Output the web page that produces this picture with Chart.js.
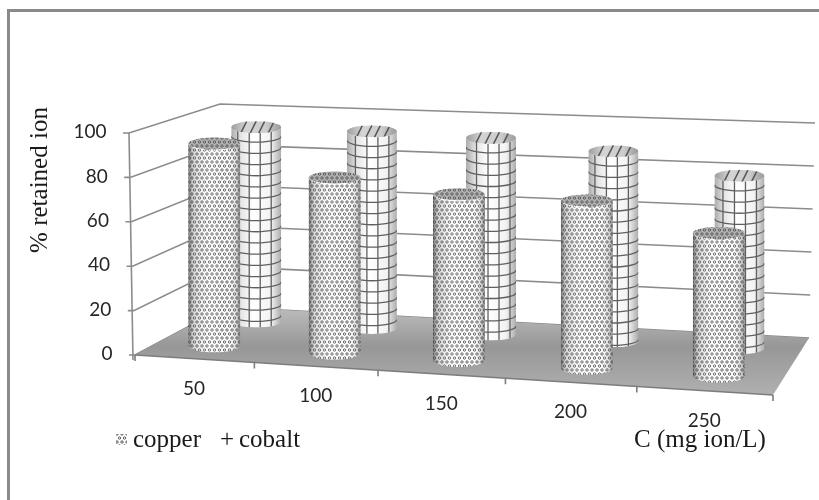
<!DOCTYPE html>
<html>
<head>
<meta charset="utf-8">
<style>
html, body { margin: 0; padding: 0; background: #fff; }
#wrap { position: relative; width: 819px; height: 500px; }
#chart { filter: blur(0.45px); }
</style>
<script src="https://cdn.jsdelivr.net/npm/chart.js@4"></script>
</head>
<body>
<div id="wrap"><canvas id="chart"></canvas></div>
<script>
var categories = ['50', '100', '150', '200', '250'];
var copper = [92.5, 79.5, 74.5, 74.5, 63];
var cobalt = [93, 93, 92, 88, 79];
var yTicks = [0, 20, 40, 60, 80, 100];

// floor corners and the "up" vector at each of them (100% height)
var FL = [135, 355], FR = [773, 395], BR = [809, 338], BL = [225, 307];
var upFL = [-6, -222], upFR = [8, -232], upBR = [6, -215], upBL = [-5, -203];
var depth = [0.25, 0.74];
var radius = [26, 25];

var serif = '"Liberation Serif", serif';
var sans = 'Lato, sans-serif';

// unit square -> floor quad
var dx1 = FR[0] - BR[0], dx2 = BL[0] - BR[0], sx = FL[0] - FR[0] + BR[0] - BL[0];
var dy1 = FR[1] - BR[1], dy2 = BL[1] - BR[1], sy = FL[1] - FR[1] + BR[1] - BL[1];
var den = dx1 * dy2 - dy1 * dx2;
var g = (sx * dy2 - sy * dx2) / den, h = (dx1 * sy - dy1 * sx) / den;
var a = FR[0] - FL[0] + g * FR[0], b = BL[0] - FL[0] + h * BL[0];
var d = FR[1] - FL[1] + g * FR[1], e = BL[1] - FL[1] + h * BL[1];

function proj(u0, v, t) {
    // small bow so the category spacing follows the picture
    var u = u0 + 0.0075 * Math.sin(Math.PI * u0);
    var w = g * u + h * v + 1;
    var x = (a * u + b * v + FL[0]) / w;
    var y = (d * u + e * v + FL[1]) / w;
    if (t) {
        var ux = (1 - v) * ((1 - u) * upFL[0] + u * upFR[0]) + v * ((1 - u) * upBL[0] + u * upBR[0]);
        var uy = (1 - v) * ((1 - u) * upFL[1] + u * upFR[1]) + v * ((1 - u) * upBL[1] + u * upBR[1]);
        x += ux * t;
        y += uy * t;
    }
    return [x, y];
}

function line(ctx, p, q) {
    ctx.beginPath();
    ctx.moveTo(p[0], p[1]);
    ctx.lineTo(q[0], q[1]);
    ctx.stroke();
}

function stipple(ctx) {
    var c = document.createElement('canvas');
    c.width = 10; c.height = 8;
    var t = c.getContext('2d');
    t.fillStyle = '#fff';
    t.fillRect(0, 0, 10, 8);
    t.strokeStyle = '#4a4a4a';
    t.lineWidth = 0.9;
    [[2, 2], [7, 2], [4.5, 6], [9.5, 6], [-0.5, 6]].forEach(function (p) {
        t.beginPath();
        t.arc(p[0], p[1], 1.2, 0, Math.PI * 2);
        t.stroke();
    });
    return ctx.createPattern(c, 'repeat');
}

function bodyPath(ctx, cx, top, base, rx, ry) {
    ctx.beginPath();
    ctx.moveTo(cx - rx, top);
    ctx.lineTo(cx - rx, base);
    ctx.ellipse(cx, base, rx, ry, 0, Math.PI, 0, true);
    ctx.lineTo(cx + rx, top);
    ctx.ellipse(cx, top, rx, ry, 0, 0, Math.PI, false);
    ctx.closePath();
}

function drawCopper(ctx, cx, top, base, rx) {
    var ry = 7;
    ctx.save();
    bodyPath(ctx, cx, top, base, rx, ry);
    ctx.clip();
    ctx.fillStyle = stipple(ctx);
    ctx.fillRect(cx - rx, top - ry, rx * 2, base - top + ry * 2);
    var sh = ctx.createLinearGradient(cx - rx, 0, cx + rx, 0);
    sh.addColorStop(0, 'rgba(60,60,60,0.75)');
    sh.addColorStop(0.1, 'rgba(120,120,120,0.3)');
    sh.addColorStop(0.4, 'rgba(255,255,255,0.15)');
    sh.addColorStop(0.75, 'rgba(255,255,255,0.05)');
    sh.addColorStop(0.93, 'rgba(120,120,120,0.3)');
    sh.addColorStop(1, 'rgba(70,70,70,0.7)');
    ctx.fillStyle = sh;
    ctx.fillRect(cx - rx, top - ry, rx * 2, base - top + ry * 2);
    ctx.restore();
    // cap
    ctx.save();
    ctx.beginPath();
    ctx.ellipse(cx, top, rx, ry - 1, 0, 0, Math.PI * 2);
    ctx.clip();
    ctx.fillStyle = stipple(ctx);
    ctx.fillRect(cx - rx, top - ry, rx * 2, ry * 2);
    ctx.fillStyle = 'rgba(100,100,100,0.5)';
    ctx.fillRect(cx - rx, top - ry, rx * 2, ry * 2);
    ctx.restore();
}

function drawCobalt(ctx, cx, top, base, rx, idx) {
    var ry = 6;
    ctx.save();
    bodyPath(ctx, cx, top, base, rx, ry);
    ctx.clip();
    var sh = ctx.createLinearGradient(cx - rx, 0, cx + rx, 0);
    sh.addColorStop(0, '#ababab');
    sh.addColorStop(0.2, '#e6e6e6');
    sh.addColorStop(0.45, '#ffffff');
    sh.addColorStop(0.8, '#f2f2f2');
    sh.addColorStop(1, '#ababab');
    ctx.fillStyle = sh;
    ctx.fillRect(cx - rx, top - ry, rx * 2, base - top + ry * 2);
    ctx.strokeStyle = '#606060';
    ctx.lineWidth = 1.3;
    // pattern lines, they curve round the cylinder
    for (var y = top + 11; y < base + ry + 12; y += 11.2) {
        ctx.beginPath();
        ctx.ellipse(cx, y - 2, rx, ry, 0, Math.PI, 0, true);
        ctx.stroke();
    }
    var shift = (idx % 3) * 2;
    [-0.66, -0.2, 0.24, 0.68].forEach(function (f) {
        var x = cx + f * rx + shift - 2;
        line(ctx, [x, top - ry], [x, base + ry]);
    });
    ctx.restore();
    // cap
    ctx.save();
    ctx.beginPath();
    ctx.ellipse(cx, top, rx, ry, 0, 0, Math.PI * 2);
    ctx.clip();
    var cap = ctx.createLinearGradient(cx - rx, 0, cx + rx, 0);
    cap.addColorStop(0, '#9c9c9c');
    cap.addColorStop(0.3, '#d4d4d4');
    cap.addColorStop(0.7, '#cccccc');
    cap.addColorStop(1, '#999999');
    ctx.fillStyle = cap;
    ctx.fillRect(cx - rx, top - ry, rx * 2, ry * 2);
    ctx.strokeStyle = '#555';
    ctx.lineWidth = 1.5;
    [-0.5, -0.12, 0.22, 0.6].forEach(function (f) {
        line(ctx, [cx + f * rx + 3, top - ry], [cx + f * rx - 3, top + ry]);
    });
    ctx.restore();
}

var chart3d = {
    id: 'chart3d',
    beforeDatasetsDraw: function (chart) {
        var ctx = chart.ctx, ys = chart.scales.y, xs = chart.scales.x;
        ctx.save();

        // picture frame, only top and left show
        ctx.strokeStyle = '#8a8a8a';
        ctx.lineWidth = 3;
        ctx.beginPath();
        ctx.moveTo(8.5, 500);
        ctx.lineTo(8.5, 10.5);
        ctx.lineTo(819, 10.5);
        ctx.stroke();

        // walls
        ctx.strokeStyle = '#8c8c8c';
        ctx.lineWidth = 1.6;
        yTicks.forEach(function (v) {
            var t = (ys.bottom - ys.getPixelForValue(v)) / (ys.bottom - ys.top);
            var p = proj(0, 0, t), q = proj(0, 1, t), r = proj(1, 1, t);
            ctx.beginPath();
            ctx.moveTo(p[0] - 6, p[1]);
            ctx.lineTo(p[0], p[1]);
            ctx.lineTo(q[0], q[1]);
            ctx.lineTo(r[0], r[1]);
            ctx.stroke();
        });
        line(ctx, proj(0, 0, 1), [FL[0] - 2, FL[1] + 5]);

        // floor
        var fl = ctx.createLinearGradient(0, 307, 0, 395);
        fl.addColorStop(0, '#bdbdbd');
        fl.addColorStop(0.45, '#979797');
        fl.addColorStop(1, '#b0b0b0');
        ctx.fillStyle = fl;
        ctx.beginPath();
        ctx.moveTo(FL[0], FL[1]);
        ctx.lineTo(FR[0], FR[1]);
        ctx.lineTo(BR[0], BR[1]);
        ctx.lineTo(BL[0], BL[1]);
        ctx.closePath();
        ctx.fill();
        ctx.strokeStyle = '#7d7d7d';
        ctx.lineWidth = 1.6;
        line(ctx, FL, FR);

        // x ticks and labels sit along the slanted front edge
        var i;
        for (i = 0; i <= categories.length; i++) {
            var p0 = proj(i / categories.length, 0);
            line(ctx, p0, [p0[0], p0[1] + 6]);
        }
        ctx.fillStyle = '#262626';
        ctx.font = '19px ' + sans;
        ctx.textAlign = 'center';
        ctx.textBaseline = 'middle';
        xs.ticks.forEach(function (tk, k) {
            var u = (xs.getPixelForTick(k) - xs.left) / xs.width;
            var p = proj(u, 0);
            ctx.fillText(xs.getLabelForValue(tk.value), p[0], p[1] + 30);
        });

        // y labels follow the slanted axis
        ctx.textAlign = 'right';
        yTicks.forEach(function (v) {
            var t = (ys.bottom - ys.getPixelForValue(v)) / (ys.bottom - ys.top);
            var p = proj(0, 0, t);
            ctx.fillText(String(v), p[0] - 22.5, p[1] - 1);
        });

        // axis titles
        ctx.fillStyle = '#1a1a1a';
        ctx.font = '25px ' + serif;
        ctx.textBaseline = 'alphabetic';
        ctx.textAlign = 'left';
        ctx.fillText('C (mg ion/L)', 634, 447);
        ctx.save();
        ctx.translate(47, 180);
        ctx.rotate(-Math.PI / 2);
        ctx.textAlign = 'center';
        ctx.fillText('% retained ion', 0, 0);
        ctx.restore();

        // legend
        ctx.textAlign = 'left';
        ctx.fillText('copper', 133, 447);
        ctx.fillText('+', 220, 447);
        ctx.fillText('cobalt', 239, 447);
        ctx.fillStyle = stipple(ctx);
        ctx.fillRect(116, 434, 11, 11);

        ctx.restore();
    },
    beforeDatasetDraw: function (chart, args) {
        var ctx = chart.ctx, ys = chart.scales.y, xs = chart.scales.x;
        var idx = args.index;
        args.meta.data.forEach(function (el, i) {
            var u = 0.5 + ((el.x - xs.left) / xs.width - 0.5) * 1.012;
            var t = (el.base - el.y) / (ys.bottom - ys.top);
            var p = proj(u, depth[idx]);
            var q = proj(u, depth[idx], t);
            if (idx === 0) drawCopper(ctx, p[0], q[1], p[1], radius[idx]);
            else drawCobalt(ctx, p[0], q[1], p[1], radius[idx], i);
        });
        return false;
    }
};

new Chart(document.getElementById('chart'), {
    type: 'bar',
    data: {
        labels: categories,
        datasets: [
            { label: 'copper', data: copper, grouped: false },
            { label: 'cobalt', data: cobalt, grouped: false }
        ]
    },
    plugins: [chart3d],
    options: {
        responsive: true,
        maintainAspectRatio: false,
        animation: false,
        layout: { padding: { left: 135, right: 46, top: 133, bottom: 145 } },
        plugins: { legend: { display: false }, tooltip: { enabled: false } },
        scales: {
            x: { display: false },
            y: { display: false, min: 0, max: 100, ticks: { stepSize: 20 } }
        }
    }
});
</script>
</body>
</html>
